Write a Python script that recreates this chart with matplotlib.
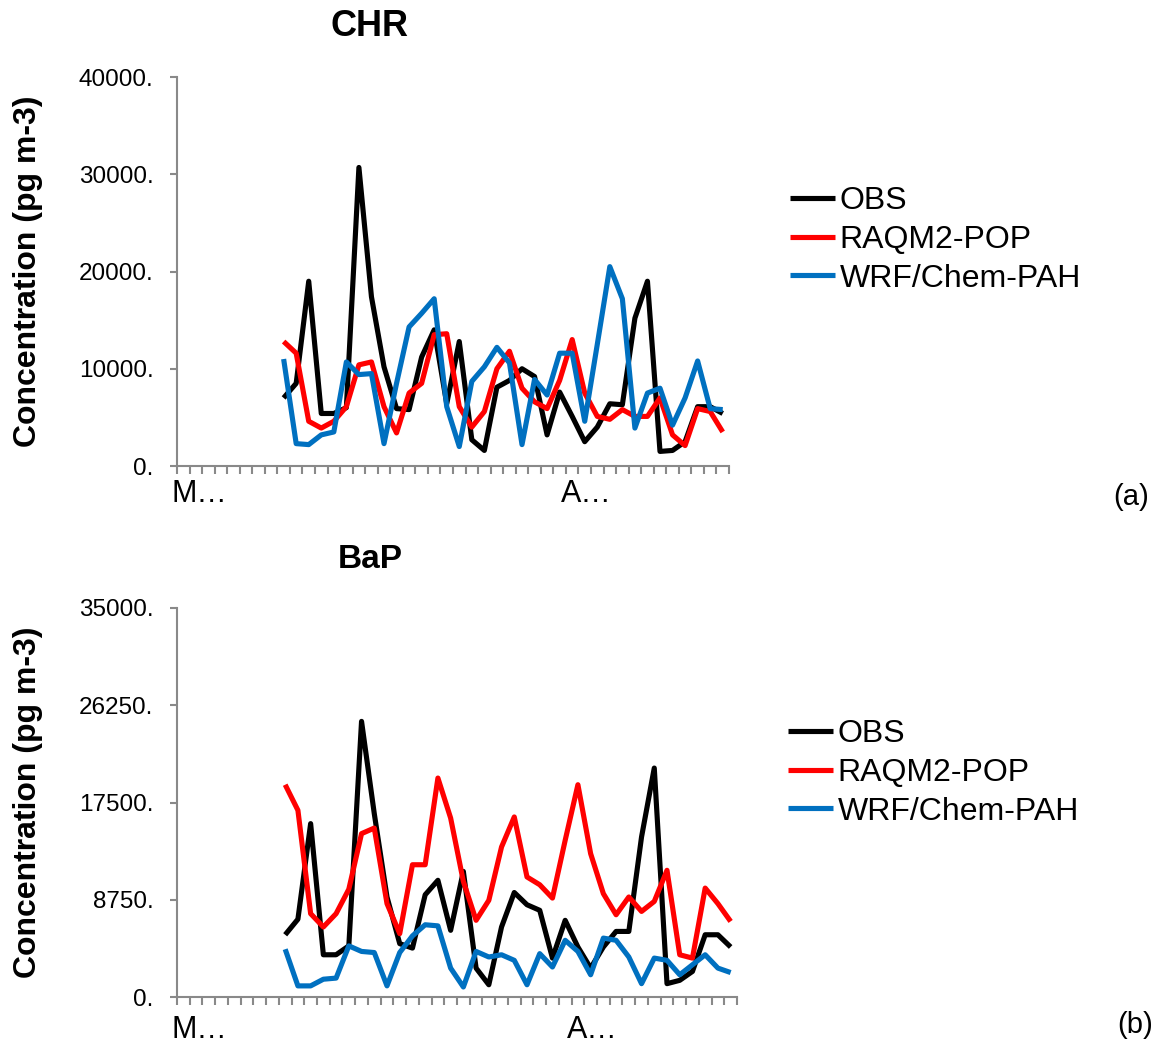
import numpy as np
import matplotlib.pyplot as plt

plt.rcParams['font.family'] = ['Liberation Sans', 'DejaVu Sans']

# days counted from 1 March; the axis covers 1 March - 13 April (44 days)
n_days = 44
day = np.arange(9, 45)  # 9 March .. 13 April
month_ticks = [0, 31]
month_labels = ['M…', 'A…']

series_names = ['OBS', 'RAQM2-POP', 'WRF/Chem-PAH']
series_colors = ['#000000', '#FF0000', '#0070C0']

# CHR (pg m-3)
chr_obs = [7000, 8500, 19000, 5400, 5400, 6000, 30700, 17400, 10200, 5900, 5800, 11200,
           14000, 6400, 12800, 2700, 1600, 8100, 8800, 10000, 9200, 3200, 7600, 5100,
           2500, 4000, 6400, 6300, 15200, 19000, 1500, 1600, 2500, 6100, 6100, 5400]
chr_raqm = [12800, 11600, 4600, 3900, 4600, 6100, 10400, 10700, 6100, 3400, 7500, 8500,
            13500, 13600, 6100, 4000, 5600, 10000, 11800, 8000, 6600, 5900, 8800, 13000,
            7500, 5100, 4800, 5800, 5100, 5100, 7000, 3200, 2100, 5900, 5600, 3500]
chr_wrf = [11000, 2300, 2200, 3200, 3500, 10700, 9400, 9500, 2300, 8500, 14300, 15700,
           17200, 6100, 2000, 8700, 10200, 12200, 10600, 2200, 8900, 7300, 11600, 11600,
           4600, 12500, 20500, 17200, 3900, 7500, 8000, 4200, 7000, 10800, 5900, 5800]

# BaP (pg m-3)
bap_obs = [5600, 7000, 15600, 3800, 3800, 4600, 24800, 16500, 9000, 4800, 4400, 9200,
           10500, 6000, 11300, 2600, 1100, 6300, 9400, 8300, 7800, 3500, 6900, 4500,
           2600, 4500, 5900, 5900, 14400, 20600, 1200, 1500, 2300, 5600, 5600, 4500]
bap_raqm = [19100, 16800, 7500, 6300, 7500, 9700, 14700, 15200, 8400, 5700, 11900, 11900,
            19700, 16100, 10400, 6900, 8700, 13500, 16200, 10800, 10100, 8900, 14100, 19100,
            12900, 9300, 7400, 9000, 7700, 8600, 11400, 3800, 3500, 9800, 8400, 6800]
bap_wrf = [4300, 1000, 1000, 1600, 1700, 4600, 4100, 4000, 1000, 4000, 5500, 6500,
           6400, 2600, 900, 4100, 3600, 3800, 3300, 1100, 3900, 2700, 5100, 4100,
           2000, 5300, 5100, 3600, 1200, 3500, 3300, 2000, 2900, 3800, 2600, 2200]

chr_yticks = [0, 10000, 20000, 30000, 40000]
bap_yticks = [0, 8750, 17500, 26250, 35000]

W, H = 1154, 1052
fig = plt.figure(figsize=(W / 100, H / 100), dpi=100)

panels = [
    # axes rect in pixels: left, top, right, bottom
    dict(rect=(177, 77, 729, 466), title='CHR', title_size=26, title_y=27,
         data=[chr_obs, chr_raqm, chr_wrf], yticks=chr_yticks, legend_y=240, legend_x=790,
         tag='(a)', tag_xy=(1131, 497), lab_off=28),
    dict(rect=(177, 608, 737, 997), title='BaP', title_size=24, title_y=560,
         data=[bap_obs, bap_raqm, bap_wrf], yticks=bap_yticks, legend_y=773, legend_x=788,
         tag='(b)', tag_xy=(1135, 1025), lab_off=33),
]

gray = '#898989'
for p in panels:
    l, t, r, b = p['rect']
    ax = fig.add_axes([l / W, 1 - b / H, (r - l) / W, (b - t) / H])
    for vals, name, col in zip(p['data'], series_names, series_colors):
        ax.plot(day - 0.5, vals, color=col, lw=3.7, label=name,
                solid_joinstyle='round', solid_capstyle='butt')
    ax.set_xlim(0, n_days)
    ax.set_ylim(p['yticks'][0], p['yticks'][-1])
    ax.set_yticks(p['yticks'])
    ax.set_yticklabels([f'{v}.' for v in p['yticks']], fontsize=17.5)
    ax.set_xticks(np.arange(0, n_days + 1))
    ax.set_xticklabels([])
    ax.tick_params(axis='x', direction='out', length=6, width=1.5, color=gray)
    ax.tick_params(axis='y', direction='out', length=5, width=1.5, color=gray, pad=12)
    for s in ['top', 'right']:
        ax.spines[s].set_visible(False)
    for s in ['left', 'bottom']:
        ax.spines[s].set_color(gray)
        ax.spines[s].set_linewidth(1.5)
    for m, lab in zip(month_ticks, month_labels):
        ax.text(m - 0.4, -p['lab_off'] / (b - t), lab, transform=ax.get_xaxis_transform(),
                ha='left', va='center', fontsize=22)
    fig.text(370 / W, 1 - p['title_y'] / H, p['title'], ha='center', va='center',
             fontsize=p['title_size'], fontweight='bold')
    fig.text(28 / W, 1 - (t + b) / 2 / H, 'Concentration (pg m-3)', rotation=90,
             ha='center', va='center', fontsize=23, fontweight='bold')
    ax.legend(loc='center left', bbox_to_anchor=(p['legend_x'] / W, 1 - p['legend_y'] / H),
              bbox_transform=fig.transFigure, frameon=False, fontsize=23,
              handlelength=1.4, handletextpad=0.15, labelspacing=0.27, borderpad=0,
              borderaxespad=0)
    fig.text(p['tag_xy'][0] / W, 1 - p['tag_xy'][1] / H, p['tag'], ha='center', va='center',
             fontsize=21)

fig.savefig('out.png', dpi=100)
